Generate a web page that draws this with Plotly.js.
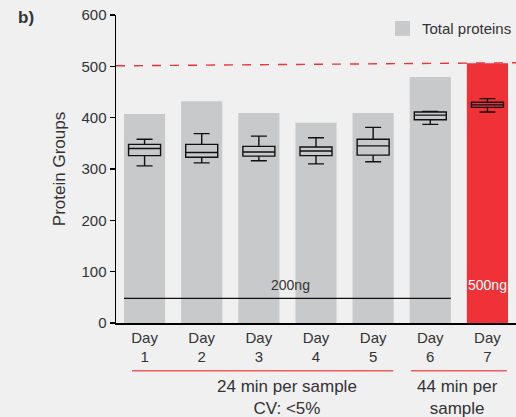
<!DOCTYPE html>
<html>
<head>
<meta charset="utf-8">
<script src="https://cdn.plot.ly/plotly-3.0.1.min.js"></script>
<style>
  html, body { margin: 0; padding: 0; background: #f0f0f0; }
  #chart { width: 516px; height: 417px; }
</style>
</head>
<body>
<div id="chart"></div>
<script>
// ---- data ----
const days = ['Day<br>1', 'Day<br>2', 'Day<br>3', 'Day<br>4', 'Day<br>5', 'Day<br>6', 'Day<br>7'];
const totalProteins = [407, 432, 409, 390, 409, 479, 506];
const barColors = ['#c8c9cb', '#c8c9cb', '#c8c9cb', '#c8c9cb', '#c8c9cb', '#c8c9cb', '#ee3237'];
const boxUpper  = [358, 369, 364, 361, 381, 412, 437];
const boxQ3     = [348, 348, 344, 343, 358, 411, 430];
const boxMedian = [340, 332, 333, 335, 345, 405, 425];
const boxQ1     = [326, 323, 325, 326, 327, 396, 420];
const boxLower  = [306, 312, 316, 310, 314, 387, 411];
const targetLine = [501, 507];     // dashed reference (left, right)
const loadLine = 48;               // 200ng load marker level
const loadLabels = ['200ng', '500ng'];
const groupLabels = ['24 min per sample<br>CV: &lt;5%', '44 min per<br>sample'];

const font = 'Liberation Sans, Arial, sans-serif';
const txt = '#333333';
const red = '#ef5b5b';

const bars = {
  type: 'bar', x: days, y: totalProteins, width: 0.72,
  marker: { color: barColors, line: { width: 0 } },
  showlegend: false, hoverinfo: 'skip'
};
const boxes = {
  type: 'box', x: days,
  q1: boxQ1, median: boxMedian, q3: boxQ3,
  lowerfence: boxLower, upperfence: boxUpper,
  width: 0.56, whiskerwidth: 0.5, boxpoints: false,
  fillcolor: 'rgba(0,0,0,0)',
  line: { color: '#111111', width: 1.4 },
  showlegend: false
};

const layout = {
  width: 516, height: 417,
  margin: { l: 116, r: 0, t: 15, b: 94 },
  paper_bgcolor: '#f0f0f0', plot_bgcolor: 'rgba(0,0,0,0)',
  font: { family: font, color: txt, size: 15 },
  showlegend: false,
  xaxis: {
    type: 'category', range: [-0.5, 6.5],
    showline: true, linecolor: '#000', linewidth: 1.5,
    ticks: '', showgrid: false, zeroline: false,
    tickfont: { size: 15, color: txt, family: font },
    fixedrange: true
  },
  yaxis: {
    range: [0, 600], dtick: 100, tick0: 0,
    showline: true, linecolor: '#000', linewidth: 1.5,
    ticks: 'outside', ticklen: 5, tickwidth: 1.2, tickcolor: '#000',
    showgrid: false, zeroline: false,
    tickfont: { size: 15, color: txt, family: font },
    title: { text: 'Protein Groups', font: { size: 17, color: txt, family: font }, standoff: 11 },
    fixedrange: true
  },
  shapes: [
    { type: 'line', xref: 'x', yref: 'y', x0: -0.5, x1: 6.5, y0: targetLine[0], y1: targetLine[1],
      line: { color: '#ee3237', width: 1.4, dash: 'dash' }, layer: 'above' },
    { type: 'line', xref: 'x', yref: 'y', x0: -0.36, x1: 5.36, y0: loadLine, y1: loadLine,
      line: { color: '#111', width: 1.4 }, layer: 'above' },
    { type: 'line', xref: 'x', yref: 'paper', x0: -0.22, x1: 4.35, y0: -0.155, y1: -0.155,
      line: { color: red, width: 1.6 } },
    { type: 'line', xref: 'x', yref: 'paper', x0: 4.66, x1: 6.34, y0: -0.155, y1: -0.155,
      line: { color: red, width: 1.6 } },
    { type: 'rect', xref: 'paper', yref: 'paper', x0: 0.6975, x1: 0.735, y0: 0.932, y1: 0.9805,
      fillcolor: '#c8c9cb', line: { width: 0 } }
  ],
  annotations: [
    { xref: 'paper', yref: 'paper', x: 0.76, y: 0.956, xanchor: 'left', yanchor: 'middle',
      text: 'Total proteins', showarrow: false, font: { size: 15, color: txt, family: font } },
    { xref: 'paper', yref: 'paper', x: -0.25, y: 0.992, xanchor: 'left', yanchor: 'middle',
      text: '<b>b)</b>', showarrow: false, font: { size: 17, color: txt, family: font } },
    { xref: 'x', yref: 'y', x: 2.555, y: 74, text: loadLabels[0], showarrow: false,
      font: { size: 14, color: txt, family: font } },
    { xref: 'x', yref: 'y', x: 6, y: 74, text: loadLabels[1], showarrow: false,
      font: { size: 14, color: '#ffffff', family: font } },
    { xref: 'x', yref: 'paper', x: 2.49, y: -0.242, yanchor: 'middle', text: groupLabels[0],
      showarrow: false, align: 'center', font: { size: 17, color: txt, family: font } },
    { xref: 'x', yref: 'paper', x: 5.48, y: -0.242, yanchor: 'middle', text: groupLabels[1],
      showarrow: false, align: 'center', font: { size: 17, color: txt, family: font } }
  ]
};

Plotly.newPlot('chart', [bars, boxes], layout, { displayModeBar: false, staticPlot: true });
</script>
</body>
</html>
